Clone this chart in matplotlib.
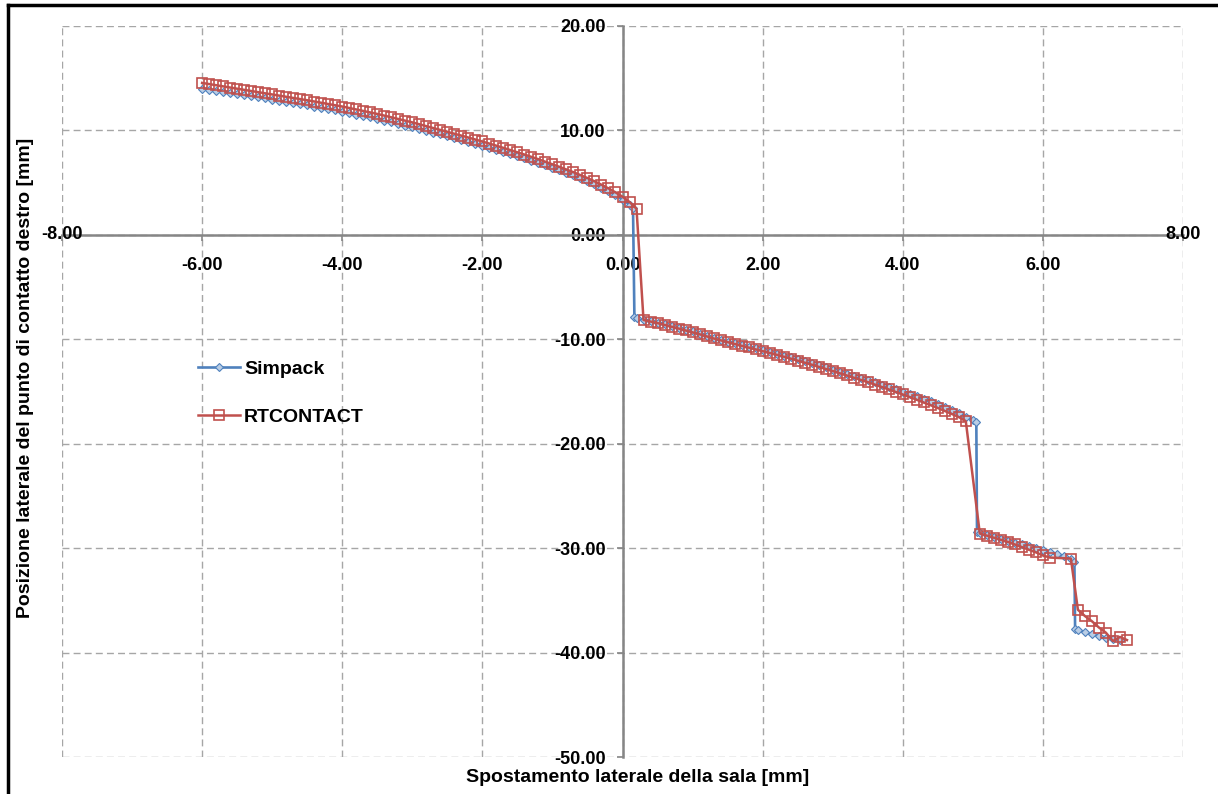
import numpy as np
import matplotlib.pyplot as plt
from matplotlib.lines import Line2D

plt.rcParams['font.family'] = ['Liberation Sans', 'DejaVu Sans']
plt.rcParams['font.weight'] = 'bold'

# ------------------------------------------------------------
# Data
# ------------------------------------------------------------
# Simpack: sampled every 0.1 mm, with the jumps at 0.15, 5.05 and 6.45 mm
simpack_x = np.r_[np.arange(-60, 2) / 10, 0.15, 0.17,
                  np.arange(2, 51) / 10, 5.05, 5.06,
                  np.arange(51, 65) / 10, 6.45, 6.46,
                  np.arange(65, 72) / 10]
simpack_y = [
    # -6.0 .. 0.1
    14.00, 13.90, 13.80, 13.70, 13.60, 13.50, 13.39, 13.28, 13.17, 13.06,
    12.95, 12.84, 12.73, 12.62, 12.51, 12.40, 12.28, 12.16, 12.04, 11.92,
    11.80, 11.66, 11.52, 11.38, 11.24, 11.10, 10.94, 10.78, 10.62, 10.46,
    10.30, 10.13, 9.96, 9.79, 9.62, 9.45, 9.28, 9.10, 8.92, 8.74,
    8.55, 8.36, 8.16, 7.96, 7.76, 7.55, 7.34, 7.12, 6.90, 6.67,
    6.44, 6.20, 5.95, 5.69, 5.42, 5.14, 4.84, 4.52, 4.17, 3.79,
    3.38, 2.90,
    # 0.15, 0.17
    2.60, -7.90,
    # 0.2 .. 5.0
    -8.00, -8.12, -8.25, -8.40, -8.55, -8.72, -8.90, -9.08, -9.25, -9.45,
    -9.65, -9.85, -10.05, -10.22, -10.38, -10.54, -10.70, -10.86, -11.02, -11.20,
    -11.38, -11.56, -11.74, -11.92, -12.10, -12.30, -12.50, -12.70, -12.90, -13.10,
    -13.30, -13.50, -13.70, -13.90, -14.12, -14.34, -14.56, -14.78, -15.00, -15.22,
    -15.45, -15.70, -15.95, -16.20, -16.47, -16.75, -17.05, -17.40, -17.75,
    # 5.05, 5.06
    -17.90, -28.50,
    # 5.1 .. 6.4
    -28.58, -28.75, -28.92, -29.10, -29.28, -29.46, -29.64, -29.82, -30.00, -30.18,
    -30.36, -30.55, -30.75, -31.00,
    # 6.45, 6.46
    -31.35, -37.70,
    # 6.5 .. 7.1
    -37.85, -38.05, -38.25, -38.42, -38.56, -38.68, -38.80,
]

rtc_x = np.r_[np.arange(-60, 3) / 10, np.arange(3, 50) / 10,
              np.arange(51, 62) / 10, 6.4, np.arange(65, 73) / 10]
rtc_y = [
    # -6.0 .. 0.2
    14.55, 14.44, 14.33, 14.22, 14.11, 14.00, 13.89, 13.78, 13.67, 13.56,
    13.45, 13.34, 13.23, 13.12, 13.01, 12.89, 12.77, 12.65, 12.53, 12.41,
    12.29, 12.15, 12.01, 11.87, 11.73, 11.58, 11.42, 11.26, 11.10, 10.94,
    10.77, 10.59, 10.41, 10.23, 10.05, 9.87, 9.69, 9.51, 9.32, 9.13,
    8.94, 8.74, 8.54, 8.33, 8.12, 7.91, 7.69, 7.47, 7.24, 7.00,
    6.76, 6.51, 6.26, 6.00, 5.72, 5.44, 5.13, 4.80, 4.45, 4.07,
    3.65, 3.15, 2.50,
    # 0.3 .. 4.9
    -8.15, -8.30, -8.45, -8.62, -8.80, -8.97, -9.15, -9.33, -9.52, -9.72,
    -9.92, -10.10, -10.28, -10.45, -10.62, -10.78, -10.95, -11.12, -11.30, -11.48,
    -11.66, -11.85, -12.04, -12.23, -12.43, -12.63, -12.83, -13.04, -13.25, -13.46,
    -13.67, -13.88, -14.10, -14.33, -14.56, -14.80, -15.04, -15.28, -15.53, -15.79,
    -16.05, -16.31, -16.58, -16.86, -17.15, -17.45, -17.85,
    # 5.1 .. 6.1
    -28.60, -28.80, -29.00, -29.20, -29.40, -29.65, -29.90, -30.15, -30.40, -30.70,
    -30.90,
    # 6.4
    -31.00,
    # 6.5 .. 7.2
    -35.90, -36.50, -37.00, -37.60, -38.10, -38.90, -38.50, -38.80,
]

x_ticks = [-8, -6, -4, -2, 0, 2, 4, 6, 8]
y_ticks = [20, 10, 0, -10, -20, -30, -40, -50]

# ------------------------------------------------------------
# Figure
# ------------------------------------------------------------
fig = plt.figure(figsize=(12.18, 7.94), dpi=100)
ax = fig.add_axes([62 / 1218, 1 - 757 / 794, 1121 / 1218, 731 / 794])

ax.plot(simpack_x, simpack_y, color='#4F81BD', lw=1.9, marker='D', ms=4,
        mfc='#B9CDE5', mec='#4F81BD', mew=0.8, label='Simpack', zorder=3)
ax.plot(rtc_x, rtc_y, color='#C0504D', lw=1.8, marker='s', ms=7,
        mfc='none', mec='#C0504D', mew=1.2, label='RTCONTACT', zorder=4)

ax.set_xlim(-8, 8)
ax.set_ylim(-50, 20)
ax.set_xticks(x_ticks)
ax.set_yticks(y_ticks)
ax.set_xticklabels([f'{v:.2f}' for v in x_ticks])
ax.set_yticklabels([f'{v:.2f}' for v in y_ticks])

# axes through the origin, outer frame made by the dashed grid
ax.spines['left'].set_position('zero')
ax.spines['bottom'].set_position('zero')
for s in ['left', 'bottom']:
    ax.spines[s].set_color('#868686')
    ax.spines[s].set_linewidth(1.8)
ax.spines['top'].set_visible(False)
ax.spines['right'].set_visible(False)

ax.grid(True, color='#A6A6A6', linestyle=(0, (5, 3)), linewidth=1.0)
ax.set_axisbelow(True)

ax.tick_params(axis='both', direction='out', color='#868686', width=1.2,
               labelsize=13, length=4)
ax.tick_params(axis='x', pad=12)
ax.tick_params(axis='y', pad=8)

# the end labels of the x axis sit at the level of the axis line
xl = ax.get_xticklabels()
for lab in (xl[0], xl[-1]):
    lab.set_visible(False)
for v in (x_ticks[0], x_ticks[-1]):
    ax.text(v, 0, f'{v:.2f}', ha='center', va='center', fontsize=13,
            fontweight='bold')

fig.text(638 / 1218, 1 - 778 / 794, 'Spostamento laterale della sala [mm]',
         ha='center', va='center', fontsize=14, fontweight='bold')
fig.text(26 / 1218, 1 - 378 / 794,
         'Posizione laterale del punto di contatto destro [mm]',
         ha='center', va='center', rotation=90, fontsize=14,
         fontweight='bold')

ax.legend(loc='upper left', bbox_to_anchor=(180 / 1218, 1 - 343 / 794),
          bbox_transform=fig.transFigure, frameon=False, fontsize=14,
          handlelength=2.2, labelspacing=1.55, handletextpad=0.2)

# black frame on the top and left edges of the image
fig.add_artist(Line2D([8 / 1218, 8 / 1218], [0, 1 - 5 / 794],
                      transform=fig.transFigure, color='black', lw=2.5))
fig.add_artist(Line2D([8 / 1218, 1], [1 - 5 / 794, 1 - 5 / 794],
                      transform=fig.transFigure, color='black', lw=2.5))

fig.savefig('out.png', dpi=100)
